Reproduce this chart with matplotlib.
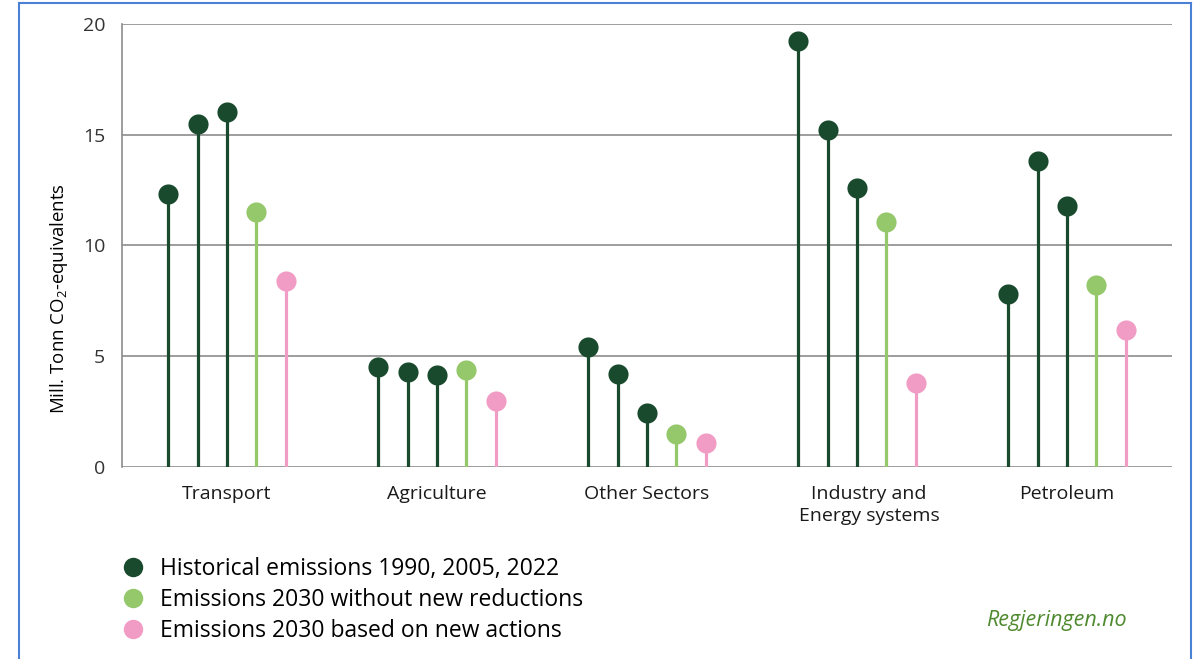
import matplotlib.pyplot as plt
import matplotlib.transforms as mtransforms
import numpy as np
from matplotlib.lines import Line2D

plt.rcParams['font.family'] = ['Open Sans', 'DejaVu Sans']

sectors = ['Transport', 'Agriculture', 'Other Sectors', 'Industry and\nEnergy systems', 'Petroleum']
hist_1990 = [12.3, 4.5, 5.4, 19.2, 7.8]
hist_2005 = [15.5, 4.3, 4.2, 15.2, 13.8]
hist_2022 = [16.0, 4.15, 2.45, 12.6, 11.8]
no_new_2030 = [11.5, 4.4, 1.5, 11.05, 8.2]
new_actions_2030 = [8.4, 3.0, 1.1, 3.8, 6.2]

dark = '#1a4a2d'
light = '#94c86b'
pink = '#f19cc5'

series = [(hist_1990, dark), (hist_2005, dark), (hist_2022, dark),
          (no_new_2030, light), (new_actions_2030, pink)]

fig = plt.figure(figsize=(11.96, 6.59), dpi=100)
ax = fig.add_axes([0.102, 0.291, 0.878, 0.673])

x = np.arange(len(sectors))
step = 0.14
for i, (vals, col) in enumerate(series):
    xs = x + (i - 2) * step
    ax.vlines(xs, 0, vals, color=col, lw=2.3, zorder=3)
    ax.plot(xs, vals, 'o', color=col, ms=14.5, mec='none', zorder=4)

ax.set_xlim(-0.5, 4.5)
ax.set_ylim(0, 20)
ax.set_yticks([0, 5, 10, 15, 20])
ax.yaxis.grid(True, color='#8c8c8c', lw=1.2)
ax.set_axisbelow(True)
ax.set_xticks(x)
ax.set_xticklabels(sectors, fontsize=14, color='#1a1a1a', linespacing=1.3)
ax.tick_params(axis='both', length=0)
ax.tick_params(axis='x', pad=13)
ax.tick_params(axis='y', pad=12, labelsize=14, labelcolor='#333333')
# the two-line label sits a little right of its group in the original
lab = ax.get_xticklabels()[3]
lab.set_transform(lab.get_transform() + mtransforms.ScaledTranslation(0.12, 0, fig.dpi_scale_trans))
for s in ['top', 'right', 'bottom']:
    ax.spines[s].set_visible(False)
ax.spines['left'].set_color('#8c8c8c')
ax.spines['left'].set_linewidth(1.2)
ax.set_ylabel('Mill. Tonn CO$_\\mathregular{2}$-equivalents', fontsize=13.4, labelpad=9, y=0.38)

handles = [Line2D([], [], ls='none', marker='o', ms=14, color=c, mec='none') for c in (dark, light, pink)]
labels = ['Historical emissions 1990, 2005, 2022',
          'Emissions 2030 without new reductions',
          'Emissions 2030 based on new actions']
fig.legend(handles, labels, loc='upper left', bbox_to_anchor=(0.092, 0.168),
           frameon=False, fontsize=16.5, handletextpad=0.6, labelspacing=0.3,
           handlelength=1.2, borderaxespad=0)

fig.text(0.883, 0.059, 'Regjeringen.no', color='#4f8a2f', style='italic',
         fontsize=15.5, ha='center', va='center')

# blue frame of the screenshot
fc = '#4a80d6'
fig.add_artist(Line2D([0.016, 0.016], [0, 0.995], color=fc, lw=1.5, transform=fig.transFigure))
fig.add_artist(Line2D([0.016, 0.996], [0.995, 0.995], color=fc, lw=1.5, transform=fig.transFigure))
fig.add_artist(Line2D([0.996, 0.996], [0, 0.995], color=fc, lw=1.5, transform=fig.transFigure))

fig.savefig('out.png', dpi=100)
